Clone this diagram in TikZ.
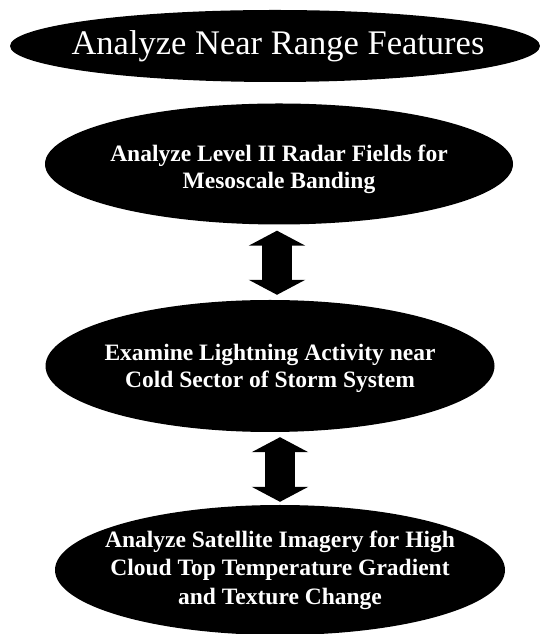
\documentclass[tikz,border=0pt]{standalone}
\usepackage{fontspec}
\setmainfont{Liberation Serif}
\usetikzlibrary{shapes.geometric,arrows.meta}

\begin{document}
\begin{tikzpicture}[x=1pt,y=1pt,
    oval/.style={ellipse, fill=black, inner sep=0pt},
    ovaltext/.style={text=white, align=center, font=\bfseries\fontsize{23.5}{27}\selectfont},
    dblarrow/.style={line width=30pt, {Triangle[length=15pt,width=56pt]}-{Triangle[length=15pt,width=56pt]}}]
    \useasboundingbox (0,0) rectangle (540,634);

    % title
    \node[oval, minimum width=530pt, minimum height=72pt] (near) at (275,588) {};
    \node[text=white, font=\fontsize{34.5}{40}\selectfont] (neartext) at ([xshift=3pt]near.center) {Analyze Near Range Features};

    % the three steps
    \node[oval, minimum width=468pt, minimum height=121pt] (radar) at (279,470) {};
    \node[ovaltext] (radartext) at ([yshift=-5pt]radar.center) {Analyze Level II Radar Fields for\\Mesoscale Banding};

    \node[oval, minimum width=449pt, minimum height=132pt] (light) at (270,268) {};
    \node[ovaltext] (lighttext) at ([yshift=-2pt]light.center) {Examine Lightning Activity near\\Cold Sector of Storm System};

    \node[oval, minimum width=450pt, minimum height=130pt] (sat) at (280,64) {};
    \node[ovaltext, font=\bfseries\fontsize{23.5}{28.5}\selectfont] (sattext) at (sat) {Analyze Satellite Imagery for High\\Cloud Top Temperature Gradient\\and Texture Change};

    % links
    \draw[dblarrow, shorten <=6pt, shorten >=5pt] ([xshift=-2pt]radar.south) -- ([xshift=-2pt]radar.south |- light.north);
    \draw[dblarrow, shorten <=5pt, shorten >=3pt] (light.south -| sat.north) -- (sat.north);
\end{tikzpicture}
\end{document}
